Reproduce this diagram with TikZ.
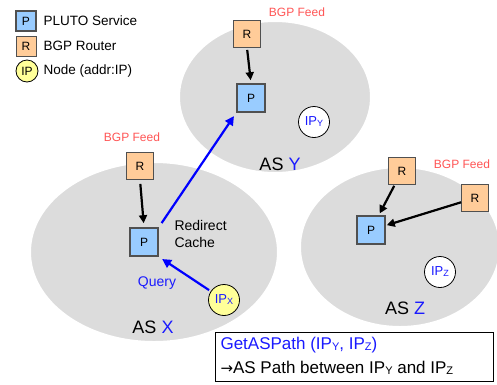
\documentclass[tikz,border=0pt]{standalone}
\usepackage{fontspec}
\setmainfont{Liberation Sans}
\newfontfamily\arrowfont{DejaVu Sans}
\usetikzlibrary{arrows.meta}
\definecolor{asgray}{HTML}{DCDCDC}
\definecolor{pblue}{HTML}{99CCFF}
\definecolor{rorange}{HTML}{FFCC99}
\definecolor{ipyellow}{HTML}{FFFF99}
\definecolor{feedred}{HTML}{FF5555}
\definecolor{txtblue}{HTML}{1A1AFF}
\definecolor{boxgray}{HTML}{505050}
\newcommand\smallsub[2]{\raisebox{-0.15ex}{\fontsize{#1}{#1}\selectfont #2}}
\begin{document}
\begin{tikzpicture}[x=1pt,y=-1pt,
  pbox/.style={draw=boxgray, line width=1.6pt, fill=pblue, minimum size=27pt, inner sep=0pt, font=\fontsize{12}{12}\selectfont},
  rbox/.style={draw=boxgray, line width=0.9pt, fill=rorange, minimum size=27pt, inner sep=0pt, font=\fontsize{12}{12}\selectfont},
  ipnode/.style={circle, draw=black, line width=0.8pt, fill=white, minimum size=31pt, inner sep=0pt, text=txtblue, font=\fontsize{13}{13}\selectfont},
  feed/.style={text=feedred, font=\fontsize{12}{12}\selectfont},
  feedarrow/.style={-{Triangle[length=8pt,width=8pt]}, line width=2.2pt, draw=black},
  queryarrow/.style={-{Triangle[length=9pt,width=9pt]}, line width=2.2pt, draw=blue},
  aslabel/.style={font=\fontsize{18}{18}\selectfont},
  legtext/.style={anchor=west, font=\fontsize{13.5}{13.5}\selectfont},
  plain/.style={font=\fontsize{14}{17}\selectfont}
]
\useasboundingbox (0,0) rectangle (497,384);

% AS areas
\fill[asgray, draw=white, line width=2pt] (275,97) ellipse [x radius=96, y radius=76];
\fill[asgray, draw=white, line width=2pt] (154,252) ellipse [x radius=124, y radius=90];
\fill[asgray, draw=white, line width=2pt] (400,247) ellipse [x radius=100, y radius=80];

% legend
\node[pbox, minimum size=20pt] (lp) at (26,21) {P};
\node[legtext] (lpt) at (40,21) {PLUTO Service};
\node[rbox, minimum size=20pt] (lr) at (26,46) {R};
\node[legtext] (lrt) at (40,46) {BGP Router};
\node[ipnode, fill=ipyellow, text=black, minimum size=22pt, font=\fontsize{12}{12}\selectfont] (lip) at (27,71) {IP};
\node[legtext] (lipt) at (40,71) {Node (addr:IP)};

% AS Y
\node[feed] (feedy) at (297,12) {BGP Feed};
\node[rbox] (ry) at (247,34) {R};
\node[pbox, minimum size=28pt] (py) at (251,98) {P};
\node[ipnode] (ipy) at (314,122) {IP\smallsub{9}{Y}};
\node[aslabel] (asy) at (280,164) {AS \textcolor{txtblue}{Y}};

% AS X
\node[feed] (feedx) at (132,137) {BGP Feed};
\node[rbox] (rx) at (140,166) {R};
\node[pbox, minimum size=28pt] (px) at (144,242) {P};
\node[plain, anchor=west, align=left] (rc) at (171,234) {Redirect\\Cache};
\node[plain, text=txtblue] (query) at (157,283) {Query};
\node[ipnode, fill=ipyellow] (ipx) at (224,300) {IP\smallsub{9}{X}};
\node[aslabel] (asx) at (153,327) {AS \textcolor{txtblue}{X}};

% AS Z
\node[feed] (feedz) at (462,164) {BGP Feed};
\node[rbox] (rz1) at (402,171) {R};
\node[rbox] (rz2) at (475,198) {R};
\node[pbox, minimum size=28pt] (pz) at (371,230) {P};
\node[ipnode] (ipz) at (440,272) {IP\smallsub{9}{Z}};
\node[aslabel] (asz) at (405,308) {AS \textcolor{txtblue}{Z}};

% connectors
\draw[feedarrow, shorten <=2pt, shorten >=3pt] (ry.south) -- (py.north);
\draw[feedarrow, shorten <=4pt, shorten >=4pt] (rx.south) -- (px.north);
\draw[feedarrow, shorten <=1pt, shorten >=2pt] (rz1) -- (pz);
\draw[feedarrow, shorten <=0pt, shorten >=1pt] (rz2) -- (pz);
\draw[queryarrow, shorten <=2pt, shorten >=4pt] (ipx) -- (px.south east);
\draw[queryarrow, shorten <=5pt, shorten >=4pt] (px.north east) -- (py.south west);

% query box
\coordinate (qtl) at (215,332);
\coordinate (qbr) at (493,381);
\draw[black, line width=0.8pt, fill=white] (qtl) rectangle (qbr);
\node[anchor=west, text=txtblue, font=\fontsize{17}{17}\selectfont] (ql1) at (217,345) {GetASPath (IP\smallsub{11}{Y}, IP\smallsub{11}{Z})};
\node[anchor=west, font=\fontsize{17}{17}\selectfont] (ql2) at (217,368) {{\arrowfont\fontsize{15}{15}\selectfont →}AS Path between IP\smallsub{11}{Y} and IP\smallsub{11}{Z}};
\end{tikzpicture}
\end{document}
